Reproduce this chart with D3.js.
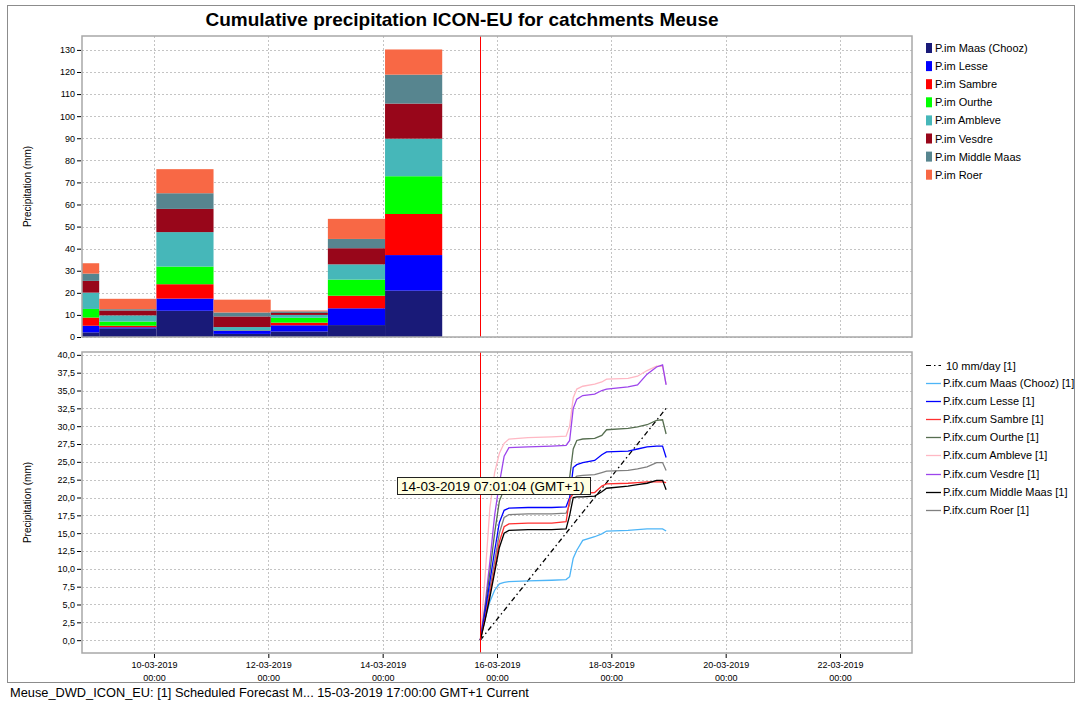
<!DOCTYPE html>
<html lang="en">

<head>
  <meta charset="UTF-8" />
  <title>Cumulative precipitation ICON-EU for catchments Meuse</title>
  <style>
    body {
      margin: 0;
      background: #fff;
    }

    svg {
      display: block;
      font-family: "Liberation Sans", Arial, sans-serif;
    }

    .grid line {
      stroke: #c4c4c4;
      stroke-width: 1px;
      stroke-dasharray: 2, 2;
    }

    .plot-frame {
      fill: none;
      stroke: #a8a8a8;
      stroke-width: 1.5px;
    }

    .cum-line {
      fill: none;
      stroke-width: 1.3px;
    }

    .axis text {
      font-size: 9px;
      fill: #000;
    }

    .axis line {
      stroke: #000;
    }

    .legend text {
      font-size: 11px;
      fill: #000;
    }
  </style>
</head>

<body>

  <script src="https://cdn.jsdelivr.net/npm/d3@7"></script>
  <script>
    // ---- data: daily observed precipitation (top panel) ----
    var barSeries = ["P.im Maas (Chooz)", "P.im Lesse", "P.im Sambre", "P.im Ourthe",
      "P.im Ambleve", "P.im Vesdre", "P.im Middle Maas", "P.im Roer"];
    var barStarts = ["2019-03-08 01:00", "2019-03-09 01:00", "2019-03-10 01:00", "2019-03-11 01:00",
      "2019-03-12 01:00", "2019-03-13 01:00", "2019-03-14 01:00"];
    var pMaas = [2.1, 3.9, 11.9, 1.4, 2.5, 5.4, 21.0];
    var pLesse = [3.0, 0.5, 5.5, 1.5, 2.8, 7.6, 16.1];
    var pSambre = [3.7, 0.7, 6.5, 0.1, 1.2, 5.7, 18.6];
    var pOurthe = [3.9, 1.9, 8.0, 0.1, 2.2, 7.3, 17.1];
    var pAmbleve = [7.4, 2.8, 15.6, 1.4, 1.3, 6.9, 17.0];
    var pVesdre = [5.3, 2.2, 10.5, 4.8, 0.9, 7.3, 15.9];
    var pMiddle = [3.3, 0.6, 7.1, 1.8, 0.7, 4.2, 13.1];
    var pRoer = [4.7, 4.7, 10.9, 5.8, 0.4, 9.1, 11.4];

    // ---- data: cumulative forecast (bottom panel), hours after T0 ----
    var forecastStart = "2019-03-15 17:00";
    var fcHours = [0, 2, 4, 6, 8, 10, 12, 20, 30, 36, 37.5, 39, 40.5, 43, 48, 51, 53, 62, 66, 70, 74, 76.5, 78];
    var cumMaas = [0, 3, 5.4, 7.0, 7.9, 8.1, 8.2, 8.3, 8.4, 8.5, 8.9, 11.5, 12.6, 14.0, 14.5, 14.9, 15.3, 15.4, 15.5, 15.6, 15.6, 15.6, 15.3];
    var cumLesse = [0, 4, 8.2, 12.5, 16.5, 18.2, 18.5, 18.6, 18.6, 18.7, 20, 24.2, 24.6, 24.9, 25.2, 26.0, 26.4, 26.5, 26.8, 27.1, 27.2, 27.2, 25.6];
    var cumSambre = [0, 3, 6.5, 10, 13.8, 15.9, 16.3, 16.4, 16.4, 16.6, 19.8, 20.5, 20.6, 20.6, 20.7, 21.6, 21.9, 22.0, 22.1, 22.2, 22.2, 22.2, 22.1];
    var cumOurthe = [0, 4.5, 9.5, 15, 19.5, 21.2, 21.5, 21.6, 21.7, 21.8, 22.8, 26.8, 28.0, 28.2, 28.3, 28.7, 29.5, 29.7, 29.9, 30.2, 30.8, 30.9, 28.9];
    var cumAmbleve = [0, 9, 18.5, 23.5, 26.2, 27.6, 28.2, 28.4, 28.5, 28.6, 30, 34, 35.2, 35.6, 35.9, 36.2, 36.6, 36.7, 37.0, 37.8, 38.4, 38.4, 35.9];
    var cumVesdre = [0, 5, 11, 17.5, 22, 25.8, 27.0, 27.1, 27.2, 27.3, 28, 32.5, 33.8, 34.3, 34.5, 35.0, 35.2, 35.5, 35.8, 37.3, 38.3, 38.6, 35.8];
    var cumMiddle = [0, 2.8, 6, 9.5, 13, 15, 15.4, 15.5, 15.5, 15.6, 17.5, 20.0, 20.1, 20.1, 20.2, 20.8, 21.3, 21.6, 21.8, 22.0, 22.4, 22.4, 21.1];
    var cumRoer = [0, 3.5, 7.2, 11, 15, 17.2, 17.6, 17.7, 17.7, 17.8, 19, 22.5, 23.0, 23.1, 23.2, 23.5, 23.7, 23.8, 24.0, 24.3, 24.9, 24.9, 23.8];
    var refHours = [0, 78];
    var refValues = [0, 32.5];
    var lineSeries = ["P.ifx.cum Maas (Chooz) [1]", "P.ifx.cum Lesse [1]", "P.ifx.cum Sambre [1]",
      "P.ifx.cum Ourthe [1]", "P.ifx.cum Ambleve [1]", "P.ifx.cum Vesdre [1]",
      "P.ifx.cum Middle Maas [1]", "P.ifx.cum Roer [1]"];
    var refName = "10 mm/day [1]";

    // ---- axis ticks ----
    var xTickDates = ["2019-03-10 00:00", "2019-03-12 00:00", "2019-03-14 00:00", "2019-03-16 00:00",
      "2019-03-18 00:00", "2019-03-20 00:00", "2019-03-22 00:00"];
    var topTicks = [0, 10, 20, 30, 40, 50, 60, 70, 80, 90, 100, 110, 120, 130];
    var botTicks = [0, 2.5, 5, 7.5, 10, 12.5, 15, 17.5, 20, 22.5, 25, 27.5, 30, 32.5, 35, 37.5, 40];

    // ---- styles ----
    var barColors = ["#191a78", "#0000ff", "#ff0000", "#00ff00", "#46b7b9", "#98061a", "#57858f", "#f86845"];
    var lineColors = ["#4db5f7", "#0000ff", "#ff3030", "#566e50", "#ffb8c4", "#9d45ec", "#000000", "#808080"];

    var w = 1082;
    var h = 702;
    var plotL = 82,
      plotR = 912;
    var top1 = 36,
      bot1 = 337;
    var top2 = 352,
      bot2 = 653;

    var parseTime = d3.timeParse("%Y-%m-%d %H:%M");
    var fmtDate = d3.timeFormat("%d-%m-%Y");
    var fmtHour = d3.timeFormat("%H:%M");
    var commaFmt = d3.formatLocale({
      decimal: ",",
      thousands: ".",
      grouping: [3],
      currency: ["", ""]
    }).format(".1f");

    var t0 = parseTime(forecastStart);

    function hourToDate(hr) {
      return new Date(t0.getTime() + hr * 3600000);
    }

    var svg = d3.select("body").append("svg")
      .attr("width", w)
      .attr("height", h);

    // outer frame
    svg.append("rect")
      .attr("x", 7.5)
      .attr("y", 5.5)
      .attr("width", 1067)
      .attr("height", 677)
      .attr("fill", "none")
      .attr("stroke", "#8c8c8c");

    svg.append("text")
      .attr("x", 462)
      .attr("y", 26)
      .attr("text-anchor", "middle")
      .style("font-size", "19px")
      .style("font-weight", "bold")
      .text("Cumulative precipitation ICON-EU for catchments Meuse");

    var xScale = d3.scaleTime()
      .domain([parseTime("2019-03-08 17:47"), parseTime("2019-03-23 06:13")])
      .range([plotL, plotR]);

    var yTop = d3.scaleLinear().domain([0, 136.3]).range([bot1, top1]);
    var yBot = d3.scaleLinear().domain([-1.8, 40.4]).range([bot2, top2]);

    var defs = svg.append("defs");
    defs.append("clipPath").attr("id", "clipTop")
      .append("rect").attr("x", plotL).attr("y", top1).attr("width", plotR - plotL).attr("height", bot1 - top1);
    defs.append("clipPath").attr("id", "clipBot")
      .append("rect").attr("x", plotL).attr("y", top2).attr("width", plotR - plotL).attr("height", bot2 - top2);

    var xTicks = xTickDates.map(parseTime);

    // gridlines for one panel
    function drawGrid(yScale, ticks, y0, y1) {
      var g = svg.append("g").attr("class", "grid");
      g.selectAll(".hline")
        .data(ticks)
        .enter()
        .append("line")
        .attr("x1", plotL)
        .attr("x2", plotR)
        .attr("y1", function(d) {
          return Math.round(yScale(d)) + 0.5;
        })
        .attr("y2", function(d) {
          return Math.round(yScale(d)) + 0.5;
        });
      g.selectAll(".vline")
        .data(xTicks)
        .enter()
        .append("line")
        .attr("x1", function(d) {
          return Math.round(xScale(d)) + 0.5;
        })
        .attr("x2", function(d) {
          return Math.round(xScale(d)) + 0.5;
        })
        .attr("y1", y0)
        .attr("y2", y1);
    }

    drawGrid(yTop, topTicks, top1, bot1);
    drawGrid(yBot, botTicks, top2, bot2);

    // ---- top panel: stacked bars ----
    var barTable = barStarts.map(function(s, i) {
      return {
        start: parseTime(s),
        s0: pMaas[i],
        s1: pLesse[i],
        s2: pSambre[i],
        s3: pOurthe[i],
        s4: pAmbleve[i],
        s5: pVesdre[i],
        s6: pMiddle[i],
        s7: pRoer[i]
      };
    });
    var stack = d3.stack().keys(["s0", "s1", "s2", "s3", "s4", "s5", "s6", "s7"]);
    var layers = stack(barTable);

    svg.append("g")
      .attr("clip-path", "url(#clipTop)")
      .selectAll("g")
      .data(layers)
      .enter()
      .append("g")
      .attr("fill", function(d, i) {
        return barColors[i];
      })
      .selectAll("rect")
      .data(function(d) {
        return d;
      })
      .enter()
      .append("rect")
      .attr("x", function(d) {
        return xScale(d.data.start);
      })
      .attr("width", function(d) {
        return xScale(d3.timeHour.offset(d.data.start, 24)) - xScale(d.data.start);
      })
      .attr("y", function(d) {
        return yTop(d[1]);
      })
      .attr("height", function(d) {
        return yTop(d[0]) - yTop(d[1]);
      });

    // ---- bottom panel: cumulative lines ----
    var cumAll = [cumMaas, cumLesse, cumSambre, cumOurthe, cumAmbleve, cumVesdre, cumMiddle, cumRoer];

    var line = d3.line()
      .x(function(d) {
        return xScale(hourToDate(d[0]));
      })
      .y(function(d) {
        return yBot(d[1]);
      });

    var lineG = svg.append("g").attr("clip-path", "url(#clipBot)");

    lineG.append("path")
      .datum(d3.zip(refHours, refValues))
      .attr("class", "cum-line")
      .attr("stroke", "#000")
      .attr("stroke-dasharray", "5,3,1.5,3")
      .attr("d", line);

    // draw Ambleve/Vesdre first like the reference so others lie on top
    var drawOrder = [4, 5, 0, 3, 7, 1, 2, 6];
    drawOrder.forEach(function(i) {
      lineG.append("path")
        .datum(d3.zip(fcHours, cumAll[i]))
        .attr("class", "cum-line")
        .attr("stroke", lineColors[i])
        .attr("d", line);
    });

    // forecast time marker
    [
      [top1, bot1],
      [top2, bot2]
    ].forEach(function(p) {
      svg.append("line")
        .attr("x1", Math.round(xScale(t0)) + 0.5)
        .attr("x2", Math.round(xScale(t0)) + 0.5)
        .attr("y1", p[0])
        .attr("y2", p[1])
        .attr("stroke", "#ff0000")
        .attr("stroke-width", 1);
    });

    // plot frames
    svg.append("rect").attr("class", "plot-frame")
      .attr("x", plotL).attr("y", top1).attr("width", plotR - plotL).attr("height", bot1 - top1);
    svg.append("rect").attr("class", "plot-frame")
      .attr("x", plotL).attr("y", top2).attr("width", plotR - plotL).attr("height", bot2 - top2);

    // ---- axes ----
    var yAxisTop = d3.axisLeft(yTop).tickValues(topTicks).tickSize(4).tickPadding(2);
    svg.append("g")
      .attr("class", "axis")
      .attr("transform", "translate(" + (plotL - 1) + ",0)")
      .call(yAxisTop)
      .call(function(g) {
        g.select(".domain").remove();
      });

    var yAxisBot = d3.axisLeft(yBot).tickValues(botTicks).tickSize(4).tickPadding(2)
      .tickFormat(function(d) {
        return commaFmt(d);
      });
    svg.append("g")
      .attr("class", "axis")
      .attr("transform", "translate(" + (plotL - 1) + ",0)")
      .call(yAxisBot)
      .call(function(g) {
        g.select(".domain").remove();
      });

    var xAxis = d3.axisBottom(xScale).tickValues(xTicks).tickSize(4).tickPadding(4)
      .tickFormat(fmtDate);
    var xg = svg.append("g")
      .attr("class", "axis")
      .attr("transform", "translate(0," + (bot2 + 1) + ")")
      .call(xAxis)
      .call(function(g) {
        g.select(".domain").remove();
      });
    xg.selectAll(".tick")
      .append("text")
      .attr("y", 21)
      .attr("dy", "0.71em")
      .attr("fill", "#000")
      .text(function(d) {
        return fmtHour(d);
      });

    // y labels
    [
      [top1, bot1],
      [top2, bot2]
    ].forEach(function(p) {
      svg.append("text")
        .attr("transform", "translate(31," + ((p[0] + p[1]) / 2) + ") rotate(-90)")
        .attr("text-anchor", "middle")
        .style("font-size", "10px")
        .text("Precipitation (mm)");
    });

    // ---- legends ----
    var legTop = svg.append("g").attr("class", "legend");
    barSeries.forEach(function(name, i) {
      var cy = 48 + i * 18.1;
      legTop.append("rect")
        .attr("x", 926)
        .attr("y", cy - 5)
        .attr("width", 6)
        .attr("height", 10)
        .attr("fill", barColors[i]);
      legTop.append("text")
        .attr("x", 935)
        .attr("y", cy + 4)
        .text(name);
    });

    var legBot = svg.append("g").attr("class", "legend");
    legBot.append("line")
      .attr("x1", 926).attr("x2", 941)
      .attr("y1", 365.5).attr("y2", 365.5)
      .attr("stroke", "#000")
      .attr("stroke-dasharray", "5,3,1.5,3");
    legBot.append("text")
      .attr("x", 946)
      .attr("y", 369.5)
      .text(refName);
    lineSeries.forEach(function(name, i) {
      var cy = 383 + i * 18.1;
      legBot.append("line")
        .attr("x1", 926).attr("x2", 941)
        .attr("y1", Math.round(cy) + 0.5).attr("y2", Math.round(cy) + 0.5)
        .attr("stroke", lineColors[i])
        .attr("stroke-width", 1.3);
      legBot.append("text")
        .attr("x", 943)
        .attr("y", cy + 4)
        .text(name);
    });

    // hover tooltip as captured in the screenshot
    var tip = svg.append("g");
    tip.append("rect")
      .attr("x", 397.5)
      .attr("y", 477.5)
      .attr("width", 193)
      .attr("height", 17)
      .attr("fill", "#ffffe1")
      .attr("stroke", "#222");
    tip.append("text")
      .attr("x", 401)
      .attr("y", 490.5)
      .style("font-size", "13.5px")
      .text("14-03-2019 07:01:04 (GMT+1)");

    // status line
    svg.append("text")
      .attr("x", 10)
      .attr("y", 697)
      .style("font-size", "12.8px")
      .text("Meuse_DWD_ICON_EU: [1] Scheduled Forecast M... 15-03-2019 17:00:00 GMT+1 Current");
  </script>

</body>

</html>
